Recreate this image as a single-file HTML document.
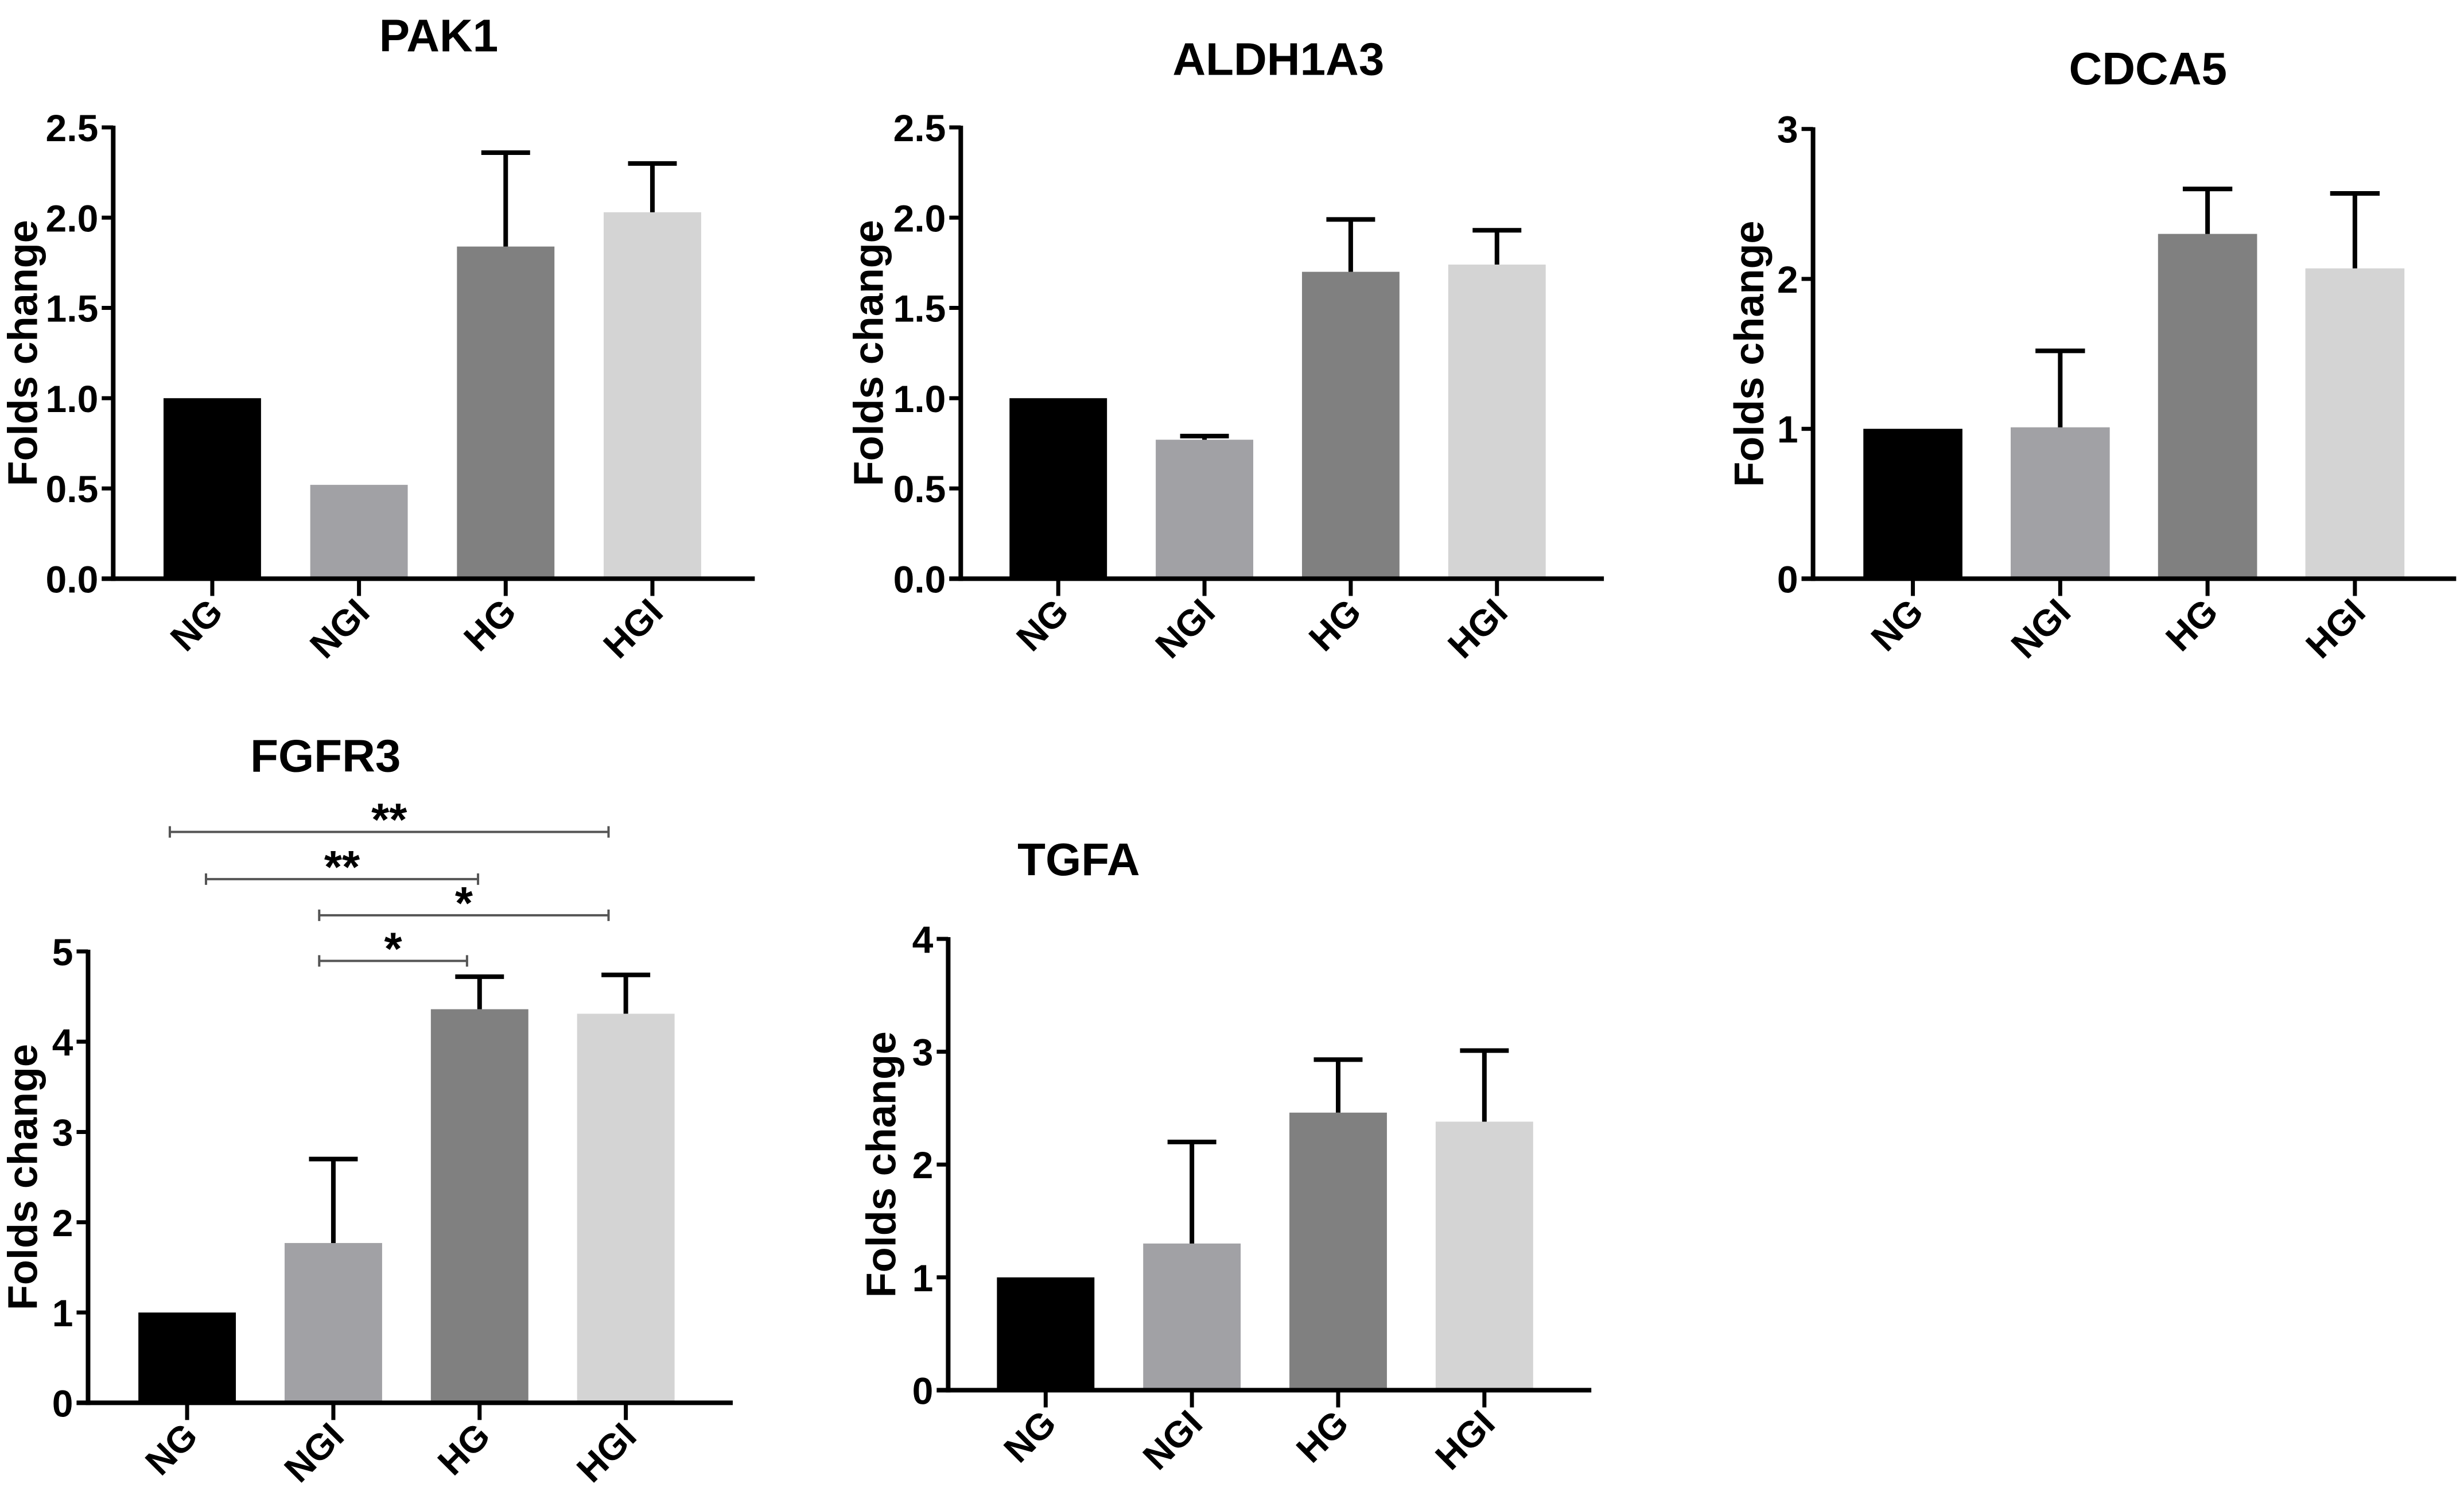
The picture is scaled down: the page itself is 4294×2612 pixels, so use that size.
<!DOCTYPE html>
<html><head><meta charset="utf-8"><style>
html,body{margin:0;padding:0;background:#fff;}
svg{display:block;}
text{font-family:"Liberation Sans",Arial,sans-serif;font-weight:bold;fill:#000;}
</style></head><body>
<svg id="chart" width="4294" height="2612" viewBox="0 0 4294 2612" xmlns="http://www.w3.org/2000/svg"></svg>
<script>
const categories = ["NG","NGI","HG","HGI"];
const pak1Values = [1.0, 0.52, 1.84, 2.03];
const pak1Upper = [null, null, 2.36, 2.30];
const pak1Ticks = ["0.0","0.5","1.0","1.5","2.0","2.5"];
const aldhValues = [1.0, 0.77, 1.70, 1.74];
const aldhUpper = [null, 0.79, 1.99, 1.93];
const aldhTicks = ["0.0","0.5","1.0","1.5","2.0","2.5"];
const cdcaValues = [1.0, 1.01, 2.30, 2.07];
const cdcaUpper = [null, 1.52, 2.60, 2.57];
const cdcaTicks = ["0","1","2","3"];
const fgfrValues = [1.0, 1.77, 4.36, 4.31];
const fgfrUpper = [null, 2.70, 4.72, 4.74];
const fgfrTicks = ["0","1","2","3","4","5"];
const tgfaValues = [1.0, 1.30, 2.46, 2.38];
const tgfaUpper = [null, 2.20, 2.93, 3.01];
const tgfaTicks = ["0","1","2","3","4"];
const fgfrSigFrom = [0, 0, 1, 1];
const fgfrSigTo = [3, 2, 3, 2];
const fgfrSigLabel = ["**","**","*","*"];
const colors = ["#000000","#a1a1a5","#808080","#d4d4d4"];

const S = 2.7403;
const svg = document.getElementById('chart');
const NS = 'http://www.w3.org/2000/svg';
function el(tag, attrs, parent){
  const e = document.createElementNS(NS, tag);
  for (const k in attrs) e.setAttribute(k, attrs[k]);
  (parent||svg).appendChild(e);
  return e;
}
const panels = [
  {id:'pak1', title:'PAK1', tx:279, ty:22, yx:14, ax:72, top:81, zero:368, b0:104, step:93.3, bw:62, end:480, vals:pak1Values, up:pak1Upper, ticks:pak1Ticks},
  {id:'aldh1a3', title:'ALDH1A3', tx:813, ty:37, yx:552, ax:611, top:81, zero:368, b0:642, step:93, bw:62, end:1020, vals:aldhValues, up:aldhUpper, ticks:aldhTicks},
  {id:'cdca5', title:'CDCA5', tx:1366, ty:43, yx:1112, ax:1153, top:82, zero:368, b0:1185, step:93.7, bw:63, end:1562, vals:cdcaValues, up:cdcaUpper, ticks:cdcaTicks},
  {id:'fgfr3', title:'FGFR3', tx:207, ty:480, yx:14, ax:56, top:605, zero:892, b0:88, step:93, bw:62, end:466, vals:fgfrValues, up:fgfrUpper, ticks:fgfrTicks},
  {id:'tgfa', title:'TGFA', tx:686, ty:546, yx:560, ax:603, top:597, zero:884, b0:634, step:93, bw:62, end:1012, vals:tgfaValues, up:tgfaUpper, ticks:tgfaTicks}
];
panels.forEach(p=>{
  const g = el('g',{});
  
  
  const ax=p.ax*S, top=p.top*S, zero=p.zero*S, end=p.end*S;
  const ymax = parseFloat(p.ticks[p.ticks.length-1]);
  const yScale = v => zero - (v/ymax)*(zero-top);
  const xLeft = i => (p.b0 + i*p.step)*S;
  const bw = p.bw*S;
  const t = el('text',{x:p.tx*S, y:p.ty*S+29, 'font-size':80, 'text-anchor':'middle'}, g);
  t.textContent = p.title;
  
  
  const yt = el('text',{x:0,y:0,'font-size':72,'text-anchor':'middle',transform:`translate(${p.yx*S+26},${(top+zero)/2}) rotate(-90)`}, g);
  yt.textContent='Folds change';
  
  
  p.vals.forEach((v,i)=>{
    const r = el('rect',{x:xLeft(i), y:yScale(v), width:bw, height:zero-yScale(v), fill:colors[i]}, g);
    
    
    if (p.up[i]!=null){
      const cx = xLeft(i)+bw/2;
      const eb = el('path',{d:`M${cx},${yScale(v)} V${yScale(p.up[i])} M${cx-bw/4},${yScale(p.up[i])} H${cx+bw/4}`, stroke:'#000','stroke-width':8, fill:'none'}, g);
      
      
    }
  });
  const ya = el('line',{x1:ax,y1:top-3,x2:ax,y2:zero+4,stroke:'#000','stroke-width':8}, g);
  
  
  p.ticks.forEach(tk=>{
    const y = yScale(parseFloat(tk));
    el('line',{x1:ax-20,y1:y,x2:ax,y2:y,stroke:'#000','stroke-width':7}, g);
    const lt = el('text',{x:ax-26,y:y+24,'font-size':66,'text-anchor':'end'}, g);
    lt.textContent = tk;
    
    
  });
  const xa = el('line',{x1:ax-20,y1:zero,x2:end,y2:zero,stroke:'#000','stroke-width':8}, g);
  
  
  categories.forEach((c,i)=>{
    const cx = xLeft(i)+bw/2;
    el('line',{x1:cx,y1:zero,x2:cx,y2:zero+30,stroke:'#000','stroke-width':7}, g);
    const ct = el('text',{x:0,y:0,'font-size':64,'text-anchor':'end',transform:`translate(${cx+22},${zero+62}) rotate(-45)`}, g);
    ct.textContent = c;
    
    
  });
  if (p.id==='fgfr3'){
    const lineY = [529,559,582,611];
    fgfrSigLabel.forEach((lab,k)=>{
      const x1 = (k===0?108:(k===1?131:203))*S;
      const x2 = (k===0?387:(k===1?304:(k===2?387:297)))*S;
      const y = lineY[k]*S;
      const sg = el('path',{d:`M${x1},${y} H${x2} M${x1},${y-10} V${y+10} M${x2},${y-10} V${y+10}`,stroke:'#555','stroke-width':4,fill:'none'}, g);
      
      
      const st = el('text',{x:(x1+x2)/2,y:y+6,'font-size':80,'text-anchor':'middle'}, g);
      st.textContent = lab;
      
      
    });
  }
});
</script>
</body></html>
